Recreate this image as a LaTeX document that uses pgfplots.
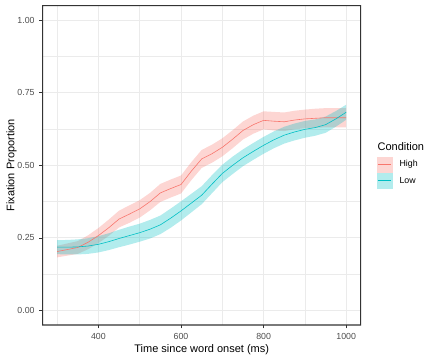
\documentclass[border=0pt]{standalone}
\usepackage{pgfplots}
\pgfplotsset{compat=1.18}
\usepackage{pgfplotstable}
\usepgfplotslibrary{fillbetween}
\usepackage{fontspec}
\setmainfont{Liberation Sans}
\definecolor{hcol}{HTML}{F8766D}
\definecolor{lcol}{HTML}{00BFC4}
\definecolor{gridc}{HTML}{EBEBEB}
\definecolor{gray30}{HTML}{4D4D4D}
\definecolor{gray20}{HTML}{333333}

\pgfplotstableread{
t high hse low lse
300 0.203 0.020 0.218 0.024
325 0.210 0.021 0.218 0.025
350 0.217 0.022 0.219 0.026
375 0.235 0.024 0.222 0.027
400 0.258 0.026 0.228 0.028
425 0.285 0.028 0.237 0.029
450 0.315 0.029 0.248 0.030
475 0.332 0.030 0.258 0.031
500 0.350 0.030 0.268 0.031
525 0.375 0.030 0.280 0.032
550 0.405 0.031 0.295 0.032
575 0.420 0.031 0.318 0.033
600 0.434 0.031 0.343 0.033
625 0.480 0.031 0.370 0.032
650 0.522 0.031 0.397 0.031
675 0.540 0.031 0.435 0.031
700 0.562 0.031 0.472 0.030
725 0.590 0.031 0.500 0.030
750 0.620 0.031 0.526 0.029
775 0.640 0.031 0.548 0.029
800 0.655 0.031 0.569 0.029
825 0.652 0.032 0.588 0.029
850 0.650 0.032 0.604 0.029
875 0.656 0.032 0.615 0.029
900 0.660 0.032 0.624 0.029
925 0.662 0.033 0.630 0.028
950 0.664 0.033 0.640 0.028
975 0.664 0.033 0.660 0.027
1000 0.664 0.033 0.683 0.026
}\data

\begin{document}
\begin{tikzpicture}
\begin{axis}[
  name=ax,
  at={(32pt,26.25pt)}, anchor=south west,
  scale only axis, width=238.5pt, height=239.5pt,
  xmin=265, xmax=1035, ymin=-0.05, ymax=1.05,
  xtick={400,600,800,1000},
  ytick={0,0.25,0.5,0.75,1},
  minor xtick={300,500,700,900},
  minor ytick={0.125,0.375,0.625,0.875},
  grid=both,
  major grid style={color=gridc, line width=0.7pt},
  minor grid style={color=gridc, line width=0.4pt},
  axis line style={draw=none},
  tick pos=left, tick align=outside,
  major tick length=2.5pt, minor tick length=0pt,
  tick style={color=gray20, line width=0.6pt},
  ticklabel style={font=\fontsize{6.6}{8}\selectfont, text=gray30},
  xticklabel style={yshift=-0.5pt},
  /pgf/number format/assume math mode=true,
  yticklabel style={/pgf/number format/.cd, fixed, fixed zerofill, precision=2},
  xticklabel style={/pgf/number format/.cd, fixed, 1000 sep={}},
]
\addplot[draw=none, name path=hu, forget plot] table[x=t, y expr=\thisrow{high}+\thisrow{hse}] {\data};
\addplot[draw=none, name path=hl, forget plot] table[x=t, y expr=\thisrow{high}-\thisrow{hse}] {\data};
\addplot[draw=none, name path=lu, forget plot] table[x=t, y expr=\thisrow{low}+\thisrow{lse}] {\data};
\addplot[draw=none, name path=ll, forget plot] table[x=t, y expr=\thisrow{low}-\thisrow{lse}] {\data};
\addplot[fill=hcol, fill opacity=0.3, draw=none, forget plot] fill between[of=hu and hl];
\addplot[fill=lcol, fill opacity=0.3, draw=none, forget plot] fill between[of=lu and ll];
\addplot[color=hcol, line width=0.45pt, no marks] table[x=t, y=high] {\data};
\addplot[color=lcol, line width=0.45pt, no marks] table[x=t, y=low] {\data};
\end{axis}
% panel border
\fill[gray20, even odd rule] (31.6pt,25.85pt) rectangle (270.9pt,266.15pt)
  (32.4pt,26.65pt) rectangle (270.1pt,265.35pt);
% axis titles
\node[font=\fontsize{8.25}{10}\selectfont, anchor=center] at (151.3pt,8pt) {Time since word onset (ms)};
\node[font=\fontsize{8.25}{10}\selectfont, anchor=center, rotate=90] at (8.6pt,146pt) {Fixation Proportion};
% legend
\node[font=\fontsize{8.25}{10}\selectfont, anchor=west, inner sep=0pt] at (283pt,159.75pt) {Condition};
\fill[hcol, opacity=0.3] (282.5pt,140.5pt) rectangle (294.5pt,152.5pt);
\draw[hcol, line width=0.45pt] (283.7pt,146.5pt) -- (293.3pt,146.5pt);
\fill[lcol, opacity=0.3] (282.5pt,128.5pt) rectangle (294.5pt,140.5pt);
\draw[lcol, line width=0.45pt] (283.7pt,134.5pt) -- (293.3pt,134.5pt);
\node[font=\fontsize{6.6}{8}\selectfont, anchor=west, inner sep=0pt] at (299.5pt,146.5pt) {High};
\node[font=\fontsize{6.6}{8}\selectfont, anchor=west, inner sep=0pt] at (299.5pt,134.5pt) {Low};
\pgfresetboundingbox
\path[use as bounding box] (0,0) rectangle (324pt,270pt);
\end{tikzpicture}
\end{document}
